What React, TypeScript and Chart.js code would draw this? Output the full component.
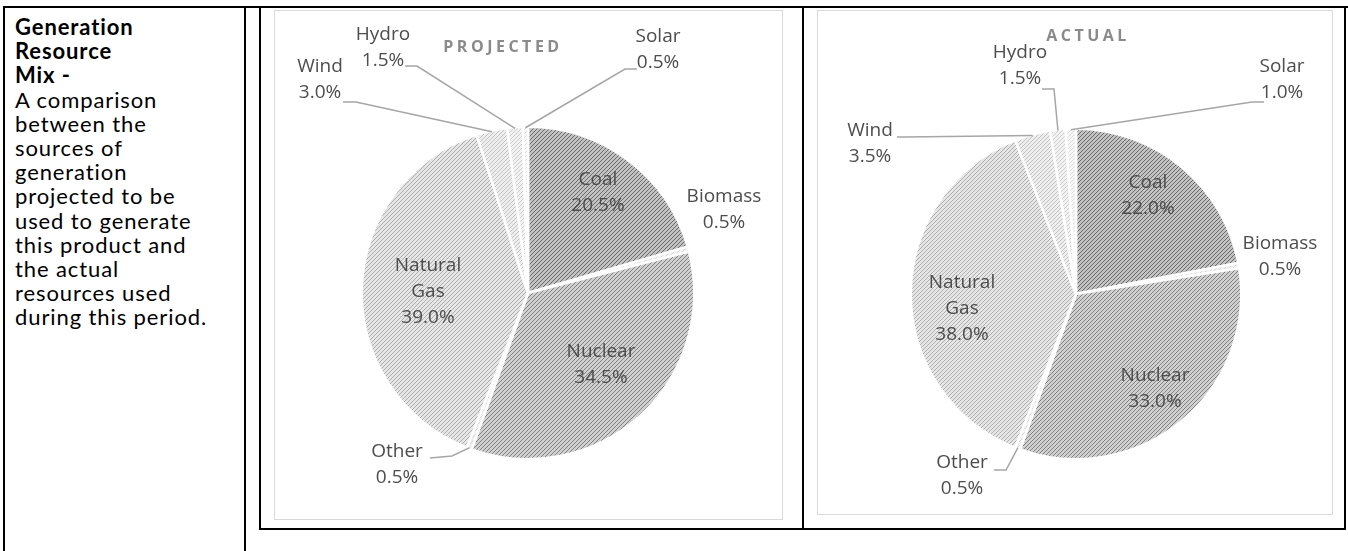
import React, { useEffect, useRef } from "react";
import { Chart, registerables } from "chart.js";

Chart.register(...registerables);

// ---------- DATA ----------
const categories = ["Coal", "Biomass", "Nuclear", "Other", "Natural Gas", "Wind", "Hydro", "Solar"];
const projectedValues = [20.5, 0.5, 34.5, 0.5, 39.0, 3.0, 1.5, 0.5];
const actualValues = [22.0, 0.5, 33.0, 0.5, 38.0, 3.5, 1.5, 1.0];
const chartTitles = ["PROJECTED", "ACTUAL"];
const sideHeading = ["Generation", "Resource", "Mix -"];
const sideText = ["A comparison", "between the", "sources of", "generation", "projected to be", "used to generate", "this product and", "the actual", "resources used", "during this period."];

// ---------- STYLES ----------
const sliceStyles: Record<string, { fg: string; bg: string }> = {
  Coal: { fg: "#6a6a6a", bg: "#c2c2c2" },
  Biomass: { fg: "#d4d4d4", bg: "#f2f2f2" },
  Nuclear: { fg: "#828282", bg: "#d0d0d0" },
  Other: { fg: "#d4d4d4", bg: "#f2f2f2" },
  "Natural Gas": { fg: "#adadad", bg: "#e6e6e6" },
  Wind: { fg: "#c2c2c2", bg: "#eeeeee" },
  Hydro: { fg: "#cdcdcd", bg: "#f2f2f2" },
  Solar: { fg: "#dadada", bg: "#f7f7f7" },
};

type Place = { dx: number; dy: number; leader?: [number, number, number, number] };
type Layout = {
  box: { left: number; top: number; width: number; height: number };
  center: [number, number];
  radius: number;
  title: [number, number];
  places: Record<string, Place>;
};

const layouts: Layout[] = [
  {
    box: { left: 274, top: 10, width: 509, height: 510 },
    center: [528, 293],
    radius: 166,
    title: [500, 46],
    places: {
      Coal: { dx: 70, dy: -100 },
      Nuclear: { dx: 73, dy: 72 },
      "Natural Gas": { dx: -100, dy: -1 },
      Biomass: { dx: 196, dy: -83 },
      Other: { dx: -131, dy: 172, leader: [-98, 165, -76, 163] },
      Wind: { dx: -208, dy: -213, leader: [-185, -191, -172, -191] },
      Hydro: { dx: -145, dy: -245, leader: [-123, -227, -111, -227] },
      Solar: { dx: 130, dy: -243, leader: [109, -224, 97, -224] },
    },
  },
  {
    box: { left: 817, top: 10, width: 516, height: 505 },
    center: [1076, 294],
    radius: 165,
    title: [1085, 35],
    places: {
      Coal: { dx: 72, dy: -98 },
      Nuclear: { dx: 79, dy: 95 },
      "Natural Gas": { dx: -114, dy: 15 },
      Biomass: { dx: 204, dy: -37 },
      Other: { dx: -114, dy: 182, leader: [-82, 176, -70, 176] },
      Wind: { dx: -206, dy: -150, leader: [-179, -157, -171, -157] },
      Hydro: { dx: -56, dy: -228, leader: [-34, -205, -22, -205] },
      Solar: { dx: 206, dy: -214, leader: [188, -192, 176, -192] },
    },
  },
];

const BORDER = 2.5;
const LABEL_FONT = '19px "Open Sans", sans-serif';
const LINE_H = 26;

function makePattern(fg: string, bg: string): CanvasPattern | string {
  const c = document.createElement("canvas");
  c.width = 4;
  c.height = 4;
  const g = c.getContext("2d");
  if (!g) return bg;
  g.fillStyle = bg;
  g.fillRect(0, 0, 4, 4);
  g.fillStyle = fg;
  for (let y = 0; y < 4; y++) {
    for (let x = 0; x < 4; x++) {
      if ((x + y) % 4 === 3) g.fillRect(x, y, 1, 1);
    }
  }
  const ctx = document.createElement("canvas").getContext("2d");
  const p = ctx ? ctx.createPattern(c, "repeat") : null;
  return p || bg;
}

function PieChart({ values, title, layout }: { values: number[]; title: string; layout: Layout }) {
  const ref = useRef<HTMLCanvasElement | null>(null);
  useEffect(() => {
    if (!ref.current) return;
    const { box, center, radius, places } = layout;
    const cx = center[0] - box.left;
    const cy = center[1] - box.top;
    const R = radius + BORDER / 2;
    const half = R + BORDER / 2;
    const padding = {
      left: cx - half,
      top: cy - half,
      right: box.width - (cx + half),
      bottom: box.height - (cy + half),
    };

    const labelPlugin = {
      id: "pieLabels",
      afterDatasetsDraw(chart: any) {
        const ctx: CanvasRenderingContext2D = chart.ctx;
        const meta = chart.getDatasetMeta(0);
        ctx.save();
        ctx.font = 'bold 16px "Open Sans", sans-serif';
        (ctx as any).letterSpacing = "3.5px";
        ctx.fillStyle = "#8a8a8a";
        ctx.textAlign = "center";
        ctx.textBaseline = "middle";
        ctx.fillText(title, layout.title[0] - box.left + 2, layout.title[1] - box.top);
        (ctx as any).letterSpacing = "0px";

        meta.data.forEach((arc: any, i: number) => {
          const name = categories[i];
          const p = places[name];
          if (!p) return;
          const props = arc.getProps(["x", "y", "startAngle", "endAngle", "outerRadius"], true);
          const mid = (props.startAngle + props.endAngle) / 2;
          const px = props.x + p.dx;
          const py = props.y + p.dy;
          if (p.leader) {
            const ex = props.x + Math.cos(mid) * (props.outerRadius - 1);
            const ey = props.y + Math.sin(mid) * (props.outerRadius - 1);
            ctx.strokeStyle = "#a6a6a6";
            ctx.lineWidth = 1.5;
            ctx.beginPath();
            ctx.moveTo(props.x + p.leader[0], props.y + p.leader[1]);
            ctx.lineTo(props.x + p.leader[2], props.y + p.leader[3]);
            ctx.lineTo(ex, ey);
            ctx.stroke();
          }
          const lines = name === "Natural Gas" ? ["Natural", "Gas"] : [name];
          lines.push(values[i].toFixed(1) + "%");
          ctx.font = LABEL_FONT;
          ctx.fillStyle = "#4d4d4d";
          ctx.textAlign = "center";
          ctx.textBaseline = "middle";
          const startY = py - ((lines.length - 1) * LINE_H) / 2;
          lines.forEach((t, k) => ctx.fillText(t, px, startY + k * LINE_H));
        });
        ctx.restore();
      },
    };

    const chart = new Chart(ref.current, {
      type: "pie",
      data: {
        labels: categories,
        datasets: [
          {
            data: values,
            backgroundColor: categories.map((c) => makePattern(sliceStyles[c].fg, sliceStyles[c].bg)) as any,
            borderColor: "#ffffff",
            borderWidth: BORDER,
            hoverOffset: 0,
            offset: 0,
          },
        ],
      },
      options: {
        animation: false,
        responsive: false,
        maintainAspectRatio: false,
        events: [],
        layout: { padding },
        plugins: {
          legend: { display: false },
          tooltip: { enabled: false },
          title: { display: false },
        },
      },
      plugins: [labelPlugin],
    });
    return () => chart.destroy();
  }, [values, title, layout]);

  const { box } = layout;
  return (
    <div
      style={{
        position: "absolute",
        left: box.left,
        top: box.top,
        width: box.width,
        height: box.height,
        boxSizing: "border-box",
        border: "1px solid #d9d9d9",
        background: "#ffffff",
      }}
    >
      <canvas
        ref={ref}
        width={box.width - 2}
        height={box.height - 2}
        style={{ display: "block", width: box.width - 2, height: box.height - 2 }}
      />
    </div>
  );
}

const line = (s: React.CSSProperties) => <div style={{ position: "absolute", background: "#000", ...s }} />;

export default function App() {
  return (
    <div
      style={{
        position: "fixed",
        left: 0,
        top: 0,
        width: 1348,
        height: 551,
        background: "#ffffff",
        overflow: "hidden",
      }}
    >
      {line({ left: 3, top: 6, width: 1345, height: 2 })}
      {line({ left: 3, top: 6, width: 2, height: 545 })}
      {line({ left: 244, top: 6, width: 2, height: 545 })}
      {line({ left: 259, top: 6, width: 2, height: 524 })}
      {line({ left: 802, top: 6, width: 2, height: 524 })}
      {line({ left: 1344, top: 6, width: 2, height: 524 })}
      {line({ left: 259, top: 528, width: 1087, height: 2 })}

      <div
        style={{
          position: "absolute",
          left: 15,
          top: 15,
          width: 228,
          fontFamily: "Lato, 'Open Sans', sans-serif",
          fontSize: 22,
          letterSpacing: "0.9px",
          lineHeight: "24.2px",
          color: "#000",
          whiteSpace: "nowrap",
        }}
      >
        {sideHeading.map((t) => (
          <div key={t} style={{ fontWeight: 700 }}>
            {t}
          </div>
        ))}
        {sideText.map((t) => (
          <div key={t}>{t}</div>
        ))}
      </div>

      <PieChart values={projectedValues} title={chartTitles[0]} layout={layouts[0]} />
      <PieChart values={actualValues} title={chartTitles[1]} layout={layouts[1]} />
    </div>
  );
}
